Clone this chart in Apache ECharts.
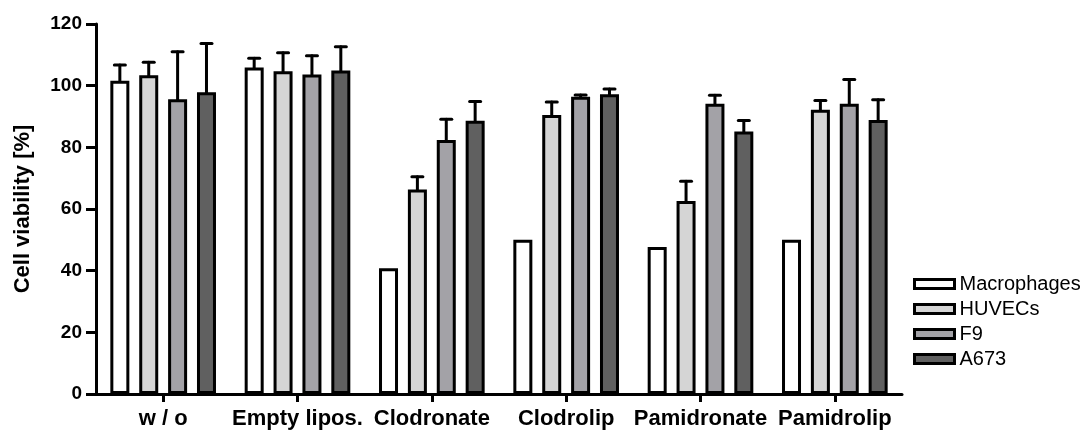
<!DOCTYPE html>
<html>
<head>
<meta charset="utf-8">
<script src="https://cdn.jsdelivr.net/npm/echarts@6/dist/echarts.min.js"></script>
<style>
  html, body { margin: 0; padding: 0; background: #ffffff; }
  #chart { width: 1088px; height: 430px; }
</style>
</head>
<body>
<div id="chart"></div>
<script>
// Treatments on the x axis
var categories = ['w / o', 'Empty lipos.', 'Clodronate', 'Clodrolip', 'Pamidronate', 'Pamidrolip'];

// Cell viability [%] (mean) and upper error (SD) per cell type
var macrophages    = [101.6, 105.9, 40.8, 50.0, 47.7, 50.0];
var macrophagesErr = [5.1, 3.0, null, null, null, null];
var huvecs         = [103.4, 104.7, 66.3, 90.5, 62.6, 92.2];
var huvecsErr      = [4.2, 6.0, 4.2, 4.2, 6.4, 3.0];
var f9             = [95.6, 103.6, 82.4, 96.4, 94.1, 94.1];
var f9Err          = [15.4, 6.1, 6.7, 0.6, 2.8, 7.9];
var a673           = [97.9, 104.9, 88.6, 97.2, 85.1, 88.9];
var a673Err        = [15.8, 7.7, 6.3, 1.7, 3.6, 6.5];

var yTicks = [0, 20, 40, 60, 80, 100, 120];

var seriesNames = ['Macrophages', 'HUVECs', 'F9', 'A673'];
var seriesColors = ['#ffffff', '#d5d5d5', '#a3a2a7', '#606060'];
var means = [macrophages, huvecs, f9, a673];
var errs = [macrophagesErr, huvecsErr, f9Err, a673Err];

var FONT = 'Arial, "Liberation Sans", Helvetica, sans-serif';
var BAR_W = 19;
var BAR_GAP = 0.52;   // fraction of bar width between neighbouring bars
var STROKE = 3;

var chart = echarts.init(document.getElementById('chart'), null, { renderer: 'canvas' });

function errorSeries(k) {
  var data = [];
  for (var i = 0; i < categories.length; i++) {
    if (errs[k][i] != null) {
      data.push([i, means[k][i], means[k][i] + errs[k][i]]);
    }
  }
  return {
    type: 'custom',
    name: seriesNames[k] + ' SD',
    z: 5,
    silent: true,
    data: data,
    encode: { x: 0, y: [1, 2] },
    renderItem: function (params, api) {
      var offset = (k - 1.5) * BAR_W * (1 + BAR_GAP);
      var base = api.coord([api.value(0), api.value(1)]);
      var top = api.coord([api.value(0), api.value(2)]);
      var x = base[0] + offset;
      var capHalf = 5.5;
      var style = { stroke: '#000000', lineWidth: STROKE, lineCap: 'round' };
      return {
        type: 'group',
        children: [
          { type: 'line', shape: { x1: x, y1: base[1], x2: x, y2: top[1] }, style: style },
          { type: 'line', shape: { x1: x - capHalf, y1: top[1], x2: x + capHalf, y2: top[1] }, style: style }
        ]
      };
    }
  };
}

var series = [];
for (var k = 0; k < 4; k++) {
  series.push({
    type: 'bar',
    name: seriesNames[k],
    data: means[k],
    barWidth: BAR_W,
    barGap: (BAR_GAP * 100) + '%',
    itemStyle: { color: seriesColors[k], borderColor: '#000000', borderWidth: STROKE },
    emphasis: { disabled: true },
    z: 2
  });
}
for (var k2 = 0; k2 < 4; k2++) series.push(errorSeries(k2));

chart.setOption({
  animation: false,
  backgroundColor: '#ffffff',
  textStyle: { fontFamily: FONT },
  grid: { left: 96, right: 186, top: 24, bottom: 33, containLabel: false },
  legend: {
    data: seriesNames.map(function (n, i) {
      return { name: n, itemStyle: { color: seriesColors[i], borderColor: '#000000', borderWidth: STROKE } };
    }),
    orient: 'vertical',
    left: 908,
    top: 269,
    itemWidth: 40,
    itemHeight: 9,
    itemGap: 5,
    icon: 'rect',
    selectedMode: false,
    textStyle: { fontFamily: FONT, fontSize: 20, color: '#000000', padding: [0, 0, 0, 0] }
  },
  xAxis: {
    type: 'category',
    data: categories,
    axisLine: { lineStyle: { color: '#000000', width: STROKE } },
    axisTick: { show: true, alignWithLabel: true, length: 8, lineStyle: { color: '#000000', width: STROKE } },
    axisLabel: { color: '#000000', fontWeight: 'bold', fontSize: 22, fontFamily: FONT, margin: 14, interval: 0 },
    splitLine: { show: false }
  },
  yAxis: {
    type: 'value',
    min: yTicks[0],
    max: yTicks[yTicks.length - 1],
    interval: yTicks[1] - yTicks[0],
    name: 'Cell viability [%]',
    nameLocation: 'middle',
    nameGap: 62,
    nameTextStyle: { color: '#000000', fontWeight: 'bold', fontSize: 22, fontFamily: FONT },
    axisLine: { show: true, lineStyle: { color: '#000000', width: STROKE } },
    axisTick: { show: true, length: 10, lineStyle: { color: '#000000', width: STROKE } },
    axisLabel: { color: '#000000', fontWeight: 'bold', fontSize: 19, fontFamily: FONT, margin: 14 },
    splitLine: { show: false }
  },
  series: series
});
</script>
</body>
</html>
